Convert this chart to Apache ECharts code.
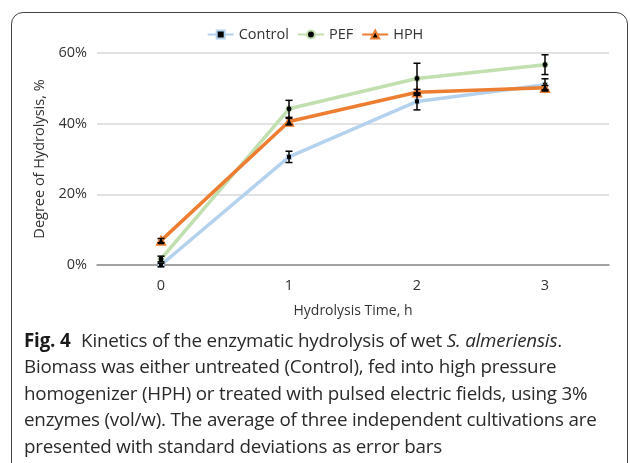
<!DOCTYPE html>
<html>
<head>
<meta charset="utf-8">
<script src="https://cdn.jsdelivr.net/npm/echarts@6/dist/echarts.min.js"></script>
<style>
  html, body { margin: 0; padding: 0; background: #fff; overflow: hidden; }
  #page { position: relative; width: 630px; height: 463px; overflow: hidden; }
  #frame {
    position: absolute; left: 11px; top: 12px; width: 617px; height: 480px;
    border: 1px solid #444; border-radius: 12px; box-sizing: border-box;
  }
  #chart { position: absolute; left: 0; top: 0; width: 630px; height: 330px; }
  #caption {
    position: absolute; left: 24px; top: 327px; width: 600px;
    font-family: "Open Sans", "Noto Sans", sans-serif; font-size: 18.8px;
    line-height: 26.4px; color: #2a2a2a; white-space: nowrap; letter-spacing: -0.2px;
  }
  #caption b { font-weight: 700; margin-right: 6px; color: #1a1a1a; }
</style>
</head>
<body>
<div id="page">
  <div id="frame"></div>
  <div id="chart"></div>
  <div id="caption">
    <div><b>Fig. 4</b> Kinetics of the enzymatic hydrolysis of wet <i>S. almeriensis</i>.</div>
    <div>Biomass was either untreated (Control), fed into high pressure</div>
    <div>homogenizer (HPH) or treated with pulsed electric fields, using 3%</div>
    <div>enzymes (vol/w). The average of three independent cultivations are</div>
    <div>presented with standard deviations as error bars</div>
  </div>
</div>
<script>
// hydrolysis time, h
const hours = ["0", "1", "2", "3"];
// degree of hydrolysis, %
const control = [0.0, 30.6, 46.3, 51.0];
const pef = [1.7, 44.2, 52.8, 56.7];
const hph = [6.9, 40.6, 48.9, 50.2];
// standard deviations, %
const controlSd = [0.5, 1.6, 2.4, 1.7];
const pefSd = [0.8, 2.4, 4.3, 2.8];
const hphSd = [0.6, 0.9, 0.8, 0.6];
const yTicks = [0, 20, 40, 60];

const chart = echarts.init(document.getElementById("chart"));
const font = "'Open Sans', 'Noto Sans', sans-serif";

function errData(vals, sds) {
  return vals.map(function (v, i) { return [i, v - sds[i], v + sds[i]]; });
}

function errSeries(name, vals, sds) {
  return {
    type: "custom",
    name: name + " sd",
    z: 5,
    silent: true,
    data: errData(vals, sds),
    encode: { x: 0, y: [1, 2] },
    renderItem: function (params, api) {
      const lo = api.coord([api.value(0), api.value(1)]);
      const hi = api.coord([api.value(0), api.value(2)]);
      const w = 3.5;
      const st = { stroke: "#000", lineWidth: 1.5 };
      return {
        type: "group",
        children: [
          { type: "line", shape: { x1: lo[0], y1: lo[1], x2: hi[0], y2: hi[1] }, style: st },
          { type: "line", shape: { x1: lo[0] - w, y1: lo[1], x2: lo[0] + w, y2: lo[1] }, style: st },
          { type: "line", shape: { x1: hi[0] - w, y1: hi[1], x2: hi[0] + w, y2: hi[1] }, style: st }
        ]
      };
    }
  };
}

chart.setOption({
  animation: false,
  textStyle: { fontFamily: font },
  legend: {
    top: 22,
    left: "center",
    itemWidth: 26,
    itemHeight: 10,
    itemGap: 8,
    textStyle: { fontSize: 14.5, color: "#333", fontFamily: font },
    data: ["Control", "PEF", "HPH"]
  },
  grid: { left: 97, right: 21, top: 53, bottom: 65, containLabel: false, outerBoundsMode: "none" },
  xAxis: {
    type: "category",
    data: hours,
    boundaryGap: true,
    name: "Hydrolysis Time, h",
    nameLocation: "middle",
    nameGap: 39,
    nameTextStyle: { fontSize: 14, color: "#333", fontFamily: font },
    axisLine: { lineStyle: { color: "#8c8c8c", width: 1.5 } },
    axisTick: { show: false },
    axisLabel: { fontSize: 14.5, color: "#333", margin: 13 }
  },
  yAxis: {
    type: "value",
    min: 0,
    max: 60,
    interval: 20,
    name: "Degree of Hydrolysis, %",
    nameLocation: "middle",
    nameGap: 50,
    nameTextStyle: { fontSize: 14.5, color: "#333", fontFamily: font },
    axisLine: { show: false },
    axisTick: { show: false },
    axisLabel: {
      fontSize: 14.5, color: "#333", margin: 10,
      formatter: function (v) { return yTicks.indexOf(v) >= 0 ? v + "%" : ""; }
    },
    splitLine: { lineStyle: { color: "#d9d9d9", width: 1.5 } }
  },
  series: [
    {
      name: "Control", type: "line", data: control, z: 2,
      symbol: "rect", symbolSize: 5,
      lineStyle: { color: "#b4d2ee", width: 3.5 },
      itemStyle: { color: "#000", borderColor: "#b4d2ee", borderWidth: 1 },
      color: "#b4d2ee"
    },
    {
      name: "PEF", type: "line", data: pef, z: 3,
      symbol: "circle", symbolSize: 6,
      lineStyle: { color: "#c2dfb0", width: 3.5 },
      itemStyle: { color: "#000", borderColor: "#c2dfb0", borderWidth: 1 },
      color: "#c2dfb0"
    },
    {
      name: "HPH", type: "line", data: hph, z: 4,
      symbol: "triangle", symbolSize: 9,
      lineStyle: { color: "#ed7d31", width: 3.5 },
      itemStyle: { color: "#000", borderColor: "#ed7d31", borderWidth: 1.5 },
      color: "#ed7d31"
    },
    errSeries("Control", control, controlSd),
    errSeries("PEF", pef, pefSd),
    errSeries("HPH", hph, hphSd)
  ]
});
</script>
</body>
</html>
